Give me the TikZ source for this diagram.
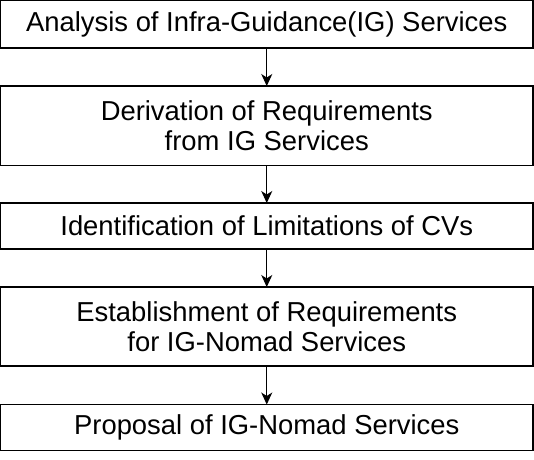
\documentclass[tikz,border=0pt]{standalone}
\usepackage{fontspec}
\setmainfont{Liberation Sans}
\usetikzlibrary{arrows.meta}
\begin{document}
\begin{tikzpicture}[x=1pt,y=1pt,
  stepbox/.style={draw=black, line width=1.2pt, fill=white, minimum width=532.5pt,
    inner sep=0pt, outer sep=0pt, align=center,
    font=\fontsize{27.4pt}{30pt}\selectfont},
  flow/.style={line width=1.1pt, -{Stealth[length=12pt,width=11pt,inset=3.5pt]}}]
\useasboundingbox (0,0) rectangle (534,-459);
\node[stepbox, minimum height=47.5pt] (a) at (266.75,-24.25) {Analysis of Infra-Guidance(IG) Services};
\node[stepbox, minimum height=79.5pt] (b) at (266.75,-125.75) {Derivation of Requirements\\from IG Services};
\node[stepbox, minimum height=46pt] (c) at (266.75,-226) {Identification of Limitations of CVs};
\node[stepbox, minimum height=79pt] (d) at (266.75,-326.5) {Establishment of Requirements\\for IG-Nomad Services};
\node[stepbox, minimum height=46pt] (e) at (266.75,-427.5) {Proposal of IG-Nomad Services};
\draw[flow] (a.south) -- (b.north);
\draw[flow] (b.south) -- (c.north);
\draw[flow] (c.south) -- (d.north);
\draw[flow] (d.south) -- (e.north);
\end{tikzpicture}
\end{document}
